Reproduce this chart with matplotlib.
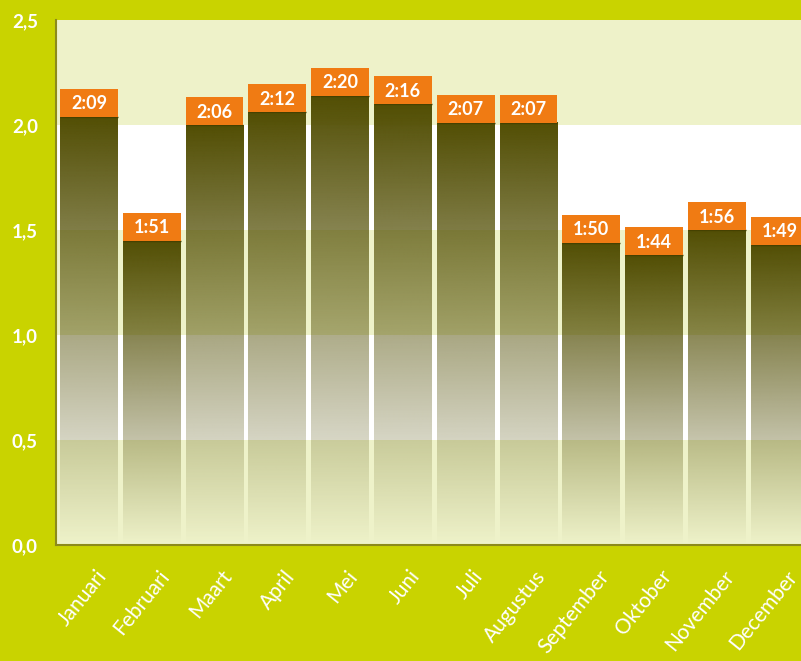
import numpy as np
import matplotlib
matplotlib.use("Agg")
import matplotlib.pyplot as plt
import matplotlib.transforms as mtransforms
from matplotlib.patches import Rectangle

months = ["Januari", "Februari", "Maart", "April", "Mei", "Juni", "Juli",
          "Augustus", "September", "Oktober", "November", "December"]
values = [2.04, 1.45, 2.00, 2.06, 2.14, 2.10, 2.01, 2.01, 1.44, 1.38, 1.50, 1.43]
labels = ["2:09", "1:51", "2:06", "2:12", "2:20", "2:16", "2:07", "2:07",
          "1:50", "1:44", "1:56", "1:49"]
yticks = [0.0, 0.5, 1.0, 1.5, 2.0, 2.5]
ytick_labels = ["0,0", "0,5", "1,0", "1,5", "2,0", "2,5"]

BG = "#c9d300"
LIGHT = "#eef2c9"
DARK = np.array([0x52, 0x4e, 0x04]) / 255.0
ORANGE = "#f07b13"
FONT = ["Lato", "DejaVu Sans"]

W, H = 801, 661
fig = plt.figure(figsize=(W / 100, H / 100), dpi=100, facecolor=BG)
ax = fig.add_axes([56 / W, (H - 545) / H, (801 - 56) / W, (545 - 20) / H])
ax.set_facecolor("white")

xmin, xmax = -0.525, 11.34
ax.set_xlim(xmin, xmax)
ax.set_ylim(0, 2.5)

# horizontal bands
for lo, hi, c in [(0, 0.5, LIGHT), (0.5, 1.0, "white"), (1.0, 1.5, LIGHT),
                  (1.5, 2.0, "white"), (2.0, 2.5, LIGHT)]:
    ax.axhspan(lo, hi, color=c, zorder=0, lw=0)

bw = 0.46
n = 200
alpha = np.linspace(1.0, 0.0, n)
grad = np.zeros((n, 1, 4))
grad[:, 0, :3] = DARK
grad[:, 0, 3] = alpha
bh = 28 / 210
for i, v in enumerate(values):
    ax.imshow(grad, extent=[i - bw, i + bw, 0, v], aspect="auto",
              interpolation="bilinear", zorder=2)
    ax.plot([i - bw, i + bw], [v, v], color="#454100", lw=1.0, zorder=3,
            solid_capstyle="butt")
    ax.add_patch(Rectangle((i - bw, v), 2 * bw, bh, facecolor=ORANGE,
                           edgecolor="none", zorder=4, clip_on=True))
    ax.text(i, v + bh / 2 - 0.005, labels[i], ha="center", va="center",
            color="white", fontsize=13, fontweight="bold", family=FONT,
            zorder=5)

ax.set_xlim(xmin, xmax)
ax.set_ylim(0, 2.5)

ax.set_yticks(yticks)
ax.set_yticklabels(ytick_labels, color="white", fontsize=13.5, family=FONT,
                   fontweight="bold")
ax.tick_params(axis="y", length=0, pad=13)
ax.set_xticks(range(len(months)))
ax.set_xticklabels(months, rotation=51, ha="right", va="top",
                   rotation_mode="anchor", color="white", fontsize=15,
                   family=FONT)
ax.tick_params(axis="x", length=0, pad=14)
offset = mtransforms.ScaledTranslation(6 / 100, -2 / 100, fig.dpi_scale_trans)
for lab in ax.get_xticklabels():
    lab.set_transform(lab.get_transform() + offset)

for s in ["top", "right"]:
    ax.spines[s].set_visible(False)
for s in ["left", "bottom"]:
    ax.spines[s].set_color("#8c8a1c")
    ax.spines[s].set_linewidth(1.5)
    ax.spines[s].set_zorder(6)

fig.savefig("out.png", dpi=100, facecolor=BG)
